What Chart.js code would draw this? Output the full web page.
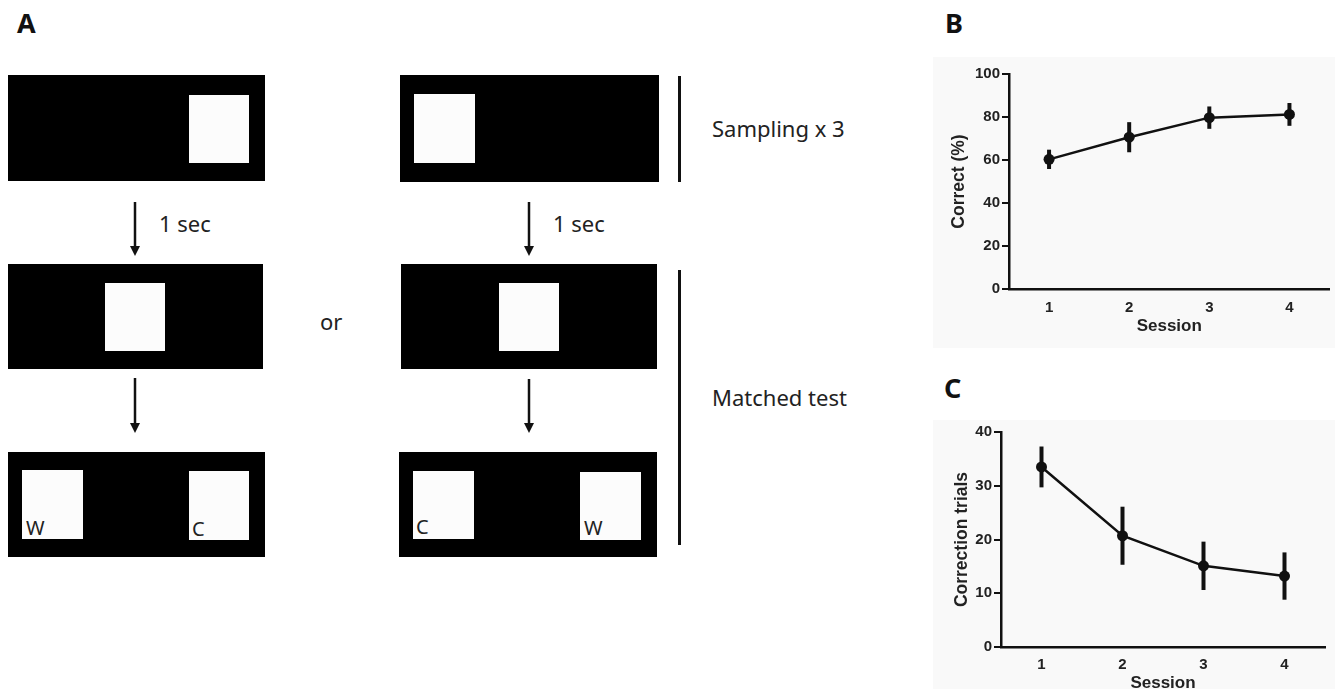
<!DOCTYPE html>
<html>
<head>
<meta charset="utf-8">
<script src="https://cdn.jsdelivr.net/npm/chart.js@4"></script>
<style>
  html, body { margin: 0; padding: 0; background: #fff; overflow: hidden; }
  body { width: 1335px; height: 689px; position: relative; }
  #schema { position: absolute; left: 0; top: 0; }
  .panel { position: absolute; background: #f9f9f9; }
  .tag { position: absolute; font-family: "Noto Sans", sans-serif; font-weight: bold; font-size: 27px; color: #111; line-height: 1; }
</style>
</head>
<body>

<svg id="schema" width="920" height="689" font-family="Noto Sans, sans-serif" fill="#222">
  <!-- left column -->
  <rect x="8" y="75" width="257" height="106" fill="#000"/>
  <rect x="189" y="95" width="60" height="68" fill="#fcfcfc"/>
  <rect x="8" y="264" width="255" height="105" fill="#000"/>
  <rect x="105" y="283" width="60" height="68" fill="#fcfcfc"/>
  <rect x="8" y="452" width="257" height="105" fill="#000"/>
  <rect x="22" y="470" width="61" height="69" fill="#fcfcfc"/>
  <rect x="189" y="471" width="60" height="69" fill="#fcfcfc"/>
  <text x="26" y="535" font-size="20">W</text>
  <text x="192" y="536" font-size="20">C</text>

  <!-- right column -->
  <rect x="400" y="75" width="259" height="107" fill="#000"/>
  <rect x="414" y="94" width="61" height="69" fill="#fcfcfc"/>
  <rect x="401" y="264" width="256" height="105" fill="#000"/>
  <rect x="499" y="283" width="60" height="68" fill="#fcfcfc"/>
  <rect x="399" y="452" width="258" height="105" fill="#000"/>
  <rect x="413" y="471" width="61" height="68" fill="#fcfcfc"/>
  <rect x="580" y="472" width="61" height="68" fill="#fcfcfc"/>
  <text x="416" y="534" font-size="20">C</text>
  <text x="584" y="535" font-size="20">W</text>

  <!-- arrows -->
  <g stroke="#111" stroke-width="2.5">
    <line x1="135" y1="202" x2="135" y2="248"/>
    <line x1="135" y1="378" x2="135" y2="425"/>
    <line x1="529" y1="202" x2="529" y2="248"/>
    <line x1="529" y1="379" x2="529" y2="425"/>
  </g>
  <g fill="#111">
    <polygon points="130,246 140,246 135,256"/>
    <polygon points="130,423 140,423 135,433"/>
    <polygon points="524,246 534,246 529,256"/>
    <polygon points="524,423 534,423 529,433"/>
  </g>
  <text x="159" y="232" font-size="22">1 sec</text>
  <text x="553" y="232" font-size="22">1 sec</text>
  <text x="320" y="330" font-size="22">or</text>

  <!-- brackets -->
  <rect x="678" y="76" width="3" height="106" fill="#111"/>
  <rect x="678" y="270" width="3" height="275" fill="#111"/>
  <text x="712" y="137" font-size="22">Sampling x 3</text>
  <text x="712" y="406" font-size="22">Matched test</text>
</svg>

<div class="tag" style="left:17px; top:9px;">A</div>
<div class="tag" style="left:945px; top:9px;">B</div>
<div class="tag" style="left:944px; top:374px;">C</div>

<div class="panel" style="left:933px; top:57px; width:402px; height:291px;">
  <canvas id="chartB" width="402" height="291"></canvas>
</div>
<div class="panel" style="left:933px; top:420px; width:402px; height:286px;">
  <canvas id="chartC" width="402" height="286"></canvas>
</div>

<script>
const sessions = ['1', '2', '3', '4'];

// B: percent correct, mean and error
const correctMean = [60.3, 70.6, 79.7, 81.2];
const correctErr = [4.5, 7.0, 5.2, 5.3];
const correctTicks = [0, 20, 40, 60, 80, 100];

// C: correction trials, mean and error
const trialsMean = [33.5, 20.7, 15.1, 13.2];
const trialsErr = [3.8, 5.4, 4.5, 4.4];
const trialsTicks = [0, 10, 20, 30, 40];

const ink = '#111';
const axisFont = 'Liberation Sans, Arial, sans-serif';

// vertical error bars, drawn through the chart's own scales
const errorBars = {
  id: 'errorBars',
  beforeDatasetsDraw(chart, args, opts) {
    const {ctx, scales: {x, y}} = chart;
    const means = chart.data.datasets[0].data;
    ctx.save();
    ctx.strokeStyle = ink;
    ctx.lineWidth = 4;
    means.forEach((m, i) => {
      const px = x.getPixelForValue(i);
      ctx.beginPath();
      ctx.moveTo(px, y.getPixelForValue(m + opts.err[i]));
      ctx.lineTo(px, y.getPixelForValue(m - opts.err[i]));
      ctx.stroke();
    });
    ctx.restore();
  }
};

function makeChart(id, means, errs, ticks, yMax, yTitle, yWidth, titlePad, xPad, sessionPad, pad) {
  return new Chart(document.getElementById(id), {
    type: 'line',
    data: {
      labels: sessions,
      datasets: [{
        data: means,
        borderColor: ink,
        borderWidth: 2.5,
        backgroundColor: ink,
        pointRadius: 5.5,
        pointBorderWidth: 0,
        tension: 0
      }]
    },
    options: {
      responsive: false,
      animation: false,
      layout: { padding: pad },
      plugins: {
        legend: { display: false },
        tooltip: { enabled: false },
        errorBars: { err: errs }
      },
      scales: {
        x: {
          type: 'category',
          offset: true,
          afterFit: s => { s.height = 59; },
          grid: { display: false, drawTicks: false },
          border: { display: true, color: ink, width: 2.5 },
          ticks: { padding: xPad, color: '#222', font: { family: axisFont, size: 15, weight: 'bold' } },
          title: {
            display: true, text: 'Session', color: '#222',
            font: { family: axisFont, size: 17, weight: 'bold' },
            padding: { top: 0, bottom: sessionPad }
          }
        },
        y: {
          min: 0,
          max: yMax,
          afterBuildTicks: s => { s.ticks = ticks.map(v => ({ value: v })); },
          afterFit: s => { s.width = yWidth; },
          grid: { drawOnChartArea: false, drawTicks: true, tickLength: 7, color: ink, lineWidth: 2 },
          border: { display: true, color: ink, width: 2.5 },
          ticks: { padding: 2, color: '#222', font: { family: axisFont, size: 15, weight: 'bold' } },
          title: {
            display: true, text: yTitle, color: '#222',
            font: { family: axisFont, size: 17.5, weight: 'bold' },
            padding: { top: titlePad, bottom: 0 }
          }
        }
      }
    },
    plugins: [errorBars]
  });
}

makeChart('chartB', correctMean, correctErr, correctTicks, 100, 'Correct (%)', 76, 16, 10, 11,
  { top: 17, right: 1.5, bottom: 0, left: 0 });
makeChart('chartC', trialsMean, trialsErr, trialsTicks, 40, 'Correction trials', 68, 19, 9, 12,
  { top: 12, right: 10, bottom: 0, left: 0 });
</script>
</body>
</html>
